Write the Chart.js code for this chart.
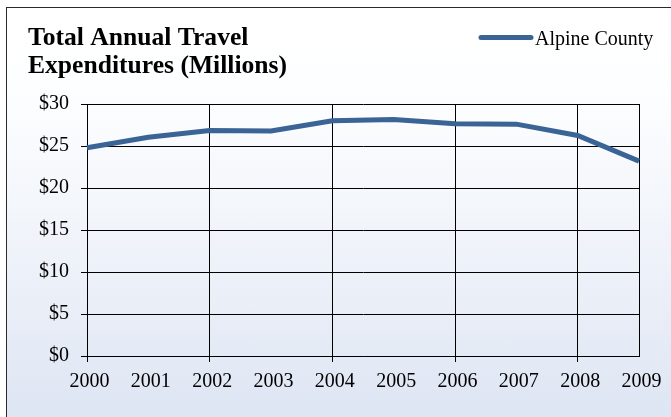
<!DOCTYPE html>
<html>
<head>
<meta charset="utf-8">
<script src="https://cdn.jsdelivr.net/npm/chart.js@4/dist/chart.umd.min.js"></script>
<style>
  html, body { margin: 0; padding: 0; width: 671px; height: 417px; overflow: hidden; background: #fff; }
  #bg {
    position: absolute; left: 6px; top: 7px; width: 700px; height: 450px;
    border-left: 1px solid #2a2a2a; border-top: 1px solid #2a2a2a;
    background: linear-gradient(to bottom, #ffffff 0px, #fdfeff 80px, #f3f6fb 200px, #dee5f3 410px);
  }
  #wrap { position: absolute; left: 0; top: 0; width: 671px; height: 417px; }
</style>
</head>
<body>
<div id="bg"></div>
<div id="wrap"><canvas id="c" width="671" height="417"></canvas></div>
<script>
const titleLines = ["Total Annual Travel", "Expenditures (Millions)"];
const seriesName = "Alpine County";
const years = ["2000","2001","2002","2003","2004","2005","2006","2007","2008","2009"];
const expenditures = [24.8, 26.05, 26.85, 26.8, 28.0, 28.15, 27.65, 27.6, 26.25, 23.2];
const yTicks = [0, 5, 10, 15, 20, 25, 30];

const serif = "'Liberation Serif', 'Times New Roman', serif";

const headerPlugin = {
  id: 'header',
  afterDraw(chart) {
    const ctx = chart.ctx;
    ctx.save();
    ctx.fillStyle = '#000';
    ctx.textBaseline = 'alphabetic';
    ctx.textAlign = 'left';
    ctx.font = "bold 25.6px " + serif;
    ctx.fillText(titleLines[0], 28, 45);
    ctx.fillText(titleLines[1], 28, 73);
    const ds = chart.data.datasets[0];
    ctx.strokeStyle = ds.borderColor;
    ctx.lineWidth = 5;
    ctx.lineCap = 'round';
    ctx.beginPath();
    ctx.moveTo(481, 37.5);
    ctx.lineTo(531, 37.5);
    ctx.stroke();
    ctx.font = "20px " + serif;
    ctx.fillText(ds.label, 535, 45);
    ctx.restore();
  }
};

new Chart(document.getElementById('c'), {
  type: 'line',
  data: {
    labels: years,
    datasets: [{
      label: seriesName,
      data: expenditures,
      borderColor: '#3a6396',
      backgroundColor: '#3a6396',
      borderWidth: 5,
      pointRadius: 0,
      tension: 0,
      fill: false,
      clip: false
    }]
  },
  options: {
    responsive: false,
    animation: false,
    layout: { padding: { top: 104, left: 0, right: 32, bottom: 0 } },
    plugins: {
      legend: { display: false },
      title: { display: false },
      tooltip: { enabled: false }
    },
    scales: {
      x: {
        type: 'category',
        offset: false,
        afterFit(s) { s.height = 61; },
        grid: {
          offset: false,
          drawOnChartArea: true,
          color: ctx => (ctx.index % 2 === 0 || ctx.index === years.length - 1) ? '#000' : 'rgba(0,0,0,0)',
          tickColor: ctx => (ctx.index % 2 === 0 && ctx.index !== years.length - 1) ? '#000' : 'rgba(0,0,0,0)',
          tickLength: 6,
          lineWidth: 1
        },
        border: { display: true, color: '#000', width: 1 },
        ticks: {
          autoSkip: false,
          maxRotation: 0,
          color: '#000',
          padding: 8,
          labelOffset: 2.5,
          font: { family: serif, size: 20 }
        }
      },
      y: {
        min: 0,
        max: 30,
        afterFit(s) { s.width = 87; },
        afterBuildTicks(s) { s.ticks = yTicks.map(v => ({ value: v })); },
        grid: {
          color: '#000',
          tickColor: '#000',
          tickLength: 6,
          lineWidth: 1
        },
        border: { display: true, color: '#000', width: 1 },
        ticks: {
          color: '#000',
          padding: 12,
          font: { family: serif, size: 20 },
          callback: v => '$' + v
        }
      }
    }
  },
  plugins: [headerPlugin]
});
</script>
</body>
</html>
